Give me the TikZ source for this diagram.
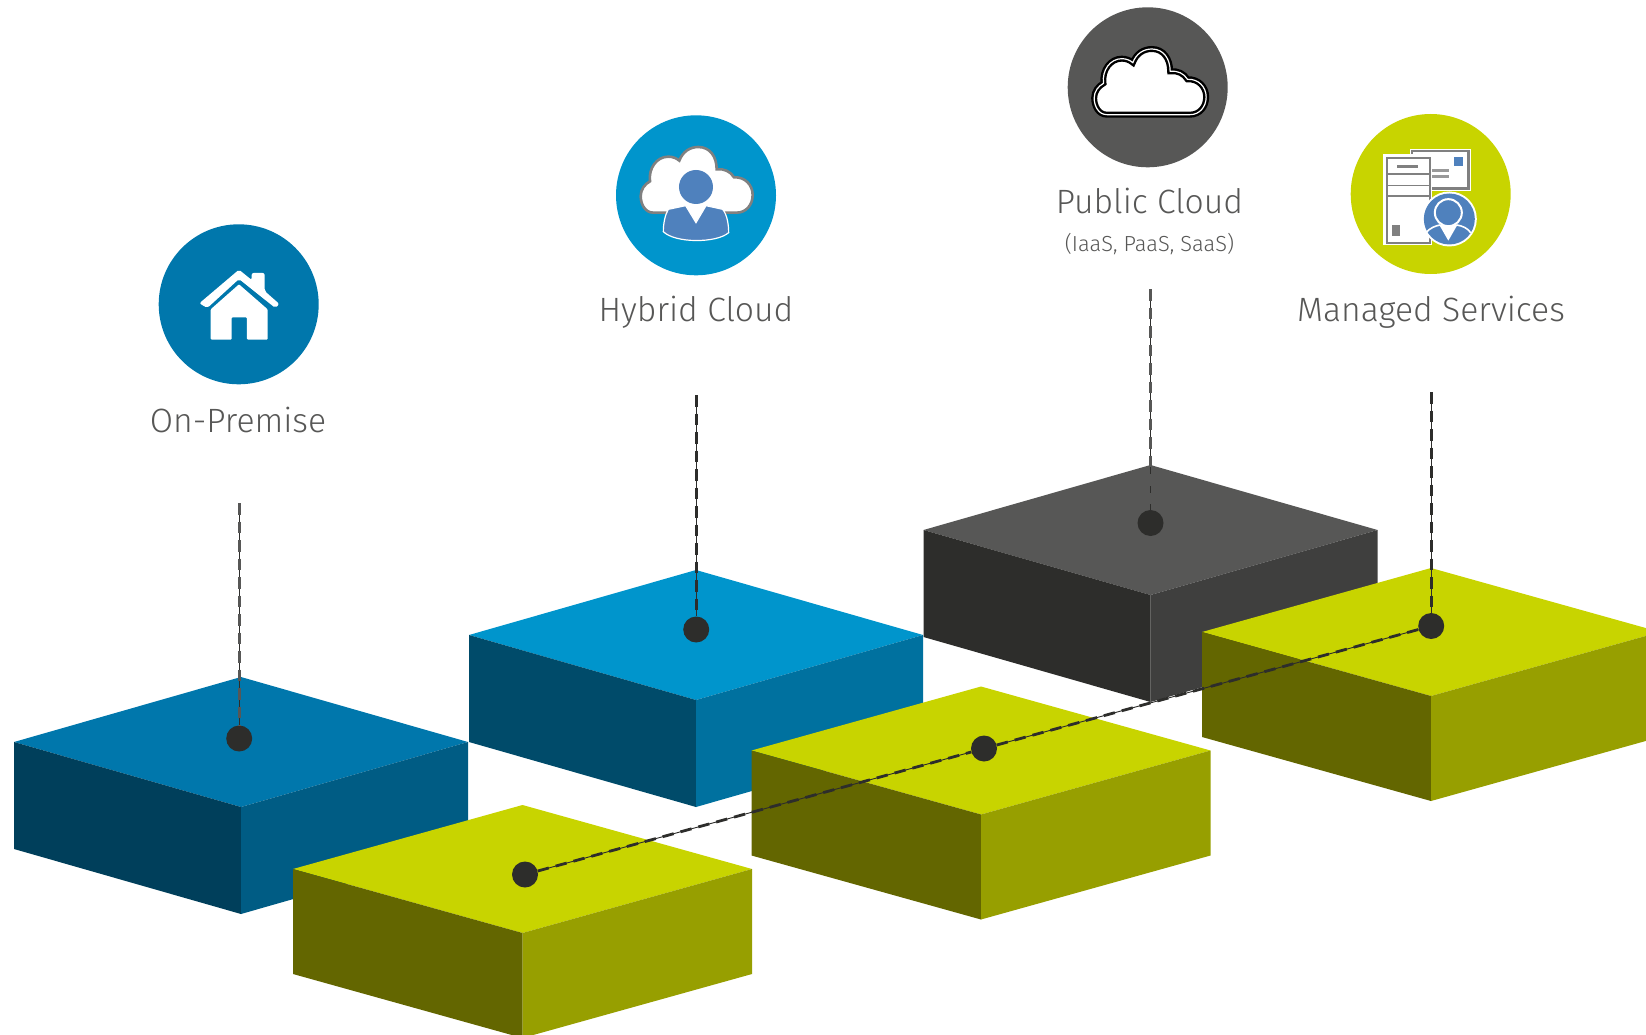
\documentclass[tikz,border=0pt]{standalone}
\usepackage{fontspec}
\setmainfont{Fira Sans Light}
\definecolor{txt}{HTML}{575756}
\definecolor{onpremT}{HTML}{0077AC}\definecolor{onpremL}{HTML}{003F5B}\definecolor{onpremR}{HTML}{005C84}
\definecolor{hybT}{HTML}{0095CC}\definecolor{hybL}{HTML}{004B6A}\definecolor{hybR}{HTML}{00719F}
\definecolor{pubT}{HTML}{575756}\definecolor{pubL}{HTML}{2D2D2B}\definecolor{pubR}{HTML}{3F3F3E}
\definecolor{grT}{HTML}{C8D400}\definecolor{grL}{HTML}{636600}\definecolor{grR}{HTML}{979F00}
\definecolor{pblue}{HTML}{4F81BD}\definecolor{igray}{HTML}{808080}\definecolor{dotc}{HTML}{2D2D2B}
\newcommand\isobox[8]{%
  \fill[#6] ({#1},{#2}) -- ({#1-#3},{#2+#4}) -- ({#1},{#2+2*#4}) -- ({#1+#3},{#2+#4}) -- cycle;
  \fill[#7] ({#1-#3},{#2+#4}) -- ({#1},{#2+2*#4}) -- ({#1},{#2+2*#4+#5}) -- ({#1-#3},{#2+#4+#5}) -- cycle;
  \fill[#8] ({#1+#3},{#2+#4}) -- ({#1},{#2+2*#4}) -- ({#1},{#2+2*#4+#5}) -- ({#1+#3},{#2+#4+#5}) -- cycle;
}
\newcommand\cloudpath{(200,338) -- (160,338) .. controls (135,338) and (122,312) .. (122,288) .. controls (122,268) and (135,252) .. (150,244) .. controls (145,205) and (170,170) .. (205,170) .. controls (218,170) and (230,175) .. (238,182) .. controls (248,155) and (270,141) .. (295,141) .. controls (330,141) and (350,170) .. (350,208) .. controls (372,205) and (392,215) .. (402,232) .. controls (435,230) and (458,255) .. (458,285) .. controls (458,315) and (438,338) .. (410,338) -- (370,338)}
\tikzset{
  label text/.style={text=txt,font=\fontsize{33.7}{37}\selectfont,inner sep=0pt,anchor=center},
  sub text/.style={text=txt,font=\fontsize{21.8}{26}\selectfont,inner sep=0pt,anchor=center},
  dotnode/.style={circle,fill=dotc,minimum size=26pt,inner sep=0pt},
  badge/.style={circle,minimum size=160pt,inner sep=0pt},
  thinline/.style={draw=dotc,line width=0.9pt},
  dashpart/.style={draw=#1,line width=2.8pt,dash pattern=on 11.5pt off 7pt},
  iconscope/.style={x=0.3333pt,y=-0.3333pt}
}
\begin{document}
\begin{tikzpicture}[x=1pt,y=-1pt]
\useasboundingbox (0,0) rectangle (1646,1035);
\clip (0,0) rectangle (1646,1035);
\isobox{241}{677}{227}{65}{107}{onpremT}{onpremL}{onpremR}
\isobox{696}{570}{227}{65}{107}{hybT}{hybL}{hybR}
\isobox{1150.5}{465}{227}{65}{107}{pubT}{pubL}{pubR}
\isobox{522.5}{805}{229.5}{64}{105}{grT}{grL}{grR}
\isobox{981}{686.5}{229.5}{64}{105}{grT}{grL}{grR}
\isobox{1431}{568}{229}{64}{105}{grT}{grL}{grR}
% dots
\node[dotnode] (d1) at (239.2,738.5) {};
\node[dotnode] (d2) at (696.2,629.5) {};
\node[dotnode] (d3) at (1150.5,523) {};
\node[dotnode] (d4) at (1431.2,626) {};
\node[dotnode] (g2) at (984,748.5) {};
\node[dotnode] (g1) at (525,874.5) {};
% free ends
\coordinate (t1) at (239.2,503);
\coordinate (t2) at (696.2,395);
\coordinate (t3) at (1150.5,289);
\coordinate (t4) at (1431.2,392);
\draw[thinline] (t1) -- (d1);
\draw[dashpart=txt] (t1) -- (d1);
\draw[thinline] (t2) -- (d2);
\draw[dashpart=dotc] (t2) -- (d2);
\draw[thinline] (t3) -- (d3);
\draw[dashpart=txt] (t3) -- (d3);
\draw[thinline] (t4) -- (d4);
\draw[dashpart=dotc] (t4) -- (d4);
\draw[thinline] (g1) -- (g2);
\draw[dashpart=dotc] (g1) -- (g2);
\draw[thinline] (g2) -- (d4);
\draw[dashpart=dotc] (g2) -- (d4);
% badges
\node[badge,fill=onpremT] (b1) at (238.7,304.3) {};
\node[badge,fill=hybT] (b2) at (696,195.3) {};
\node[badge,fill=pubT] (b3) at (1147.7,87.3) {};
\node[badge,fill=grT] (b4) at (1430.7,194) {};
% labels
\node[label text] (l1) at (238,419.5) {On-Premise};
\node[label text] (l2) at (696,312.5) {Hybrid Cloud};
\node[label text] (l3) at (1149.5,201) {Public Cloud};
\node[sub text] (l3b) at (1149.5,244) {(IaaS, PaaS, SaaS)};
\node[label text] (l4) at (1431,312.5) {Managed Services};
% house icon
\begin{scope}[shift={(150,220)},iconscope]
\fill[white,rounded corners=2pt] (148,250) -- (267,149) -- (305,180) -- (305,159) -- (344,159) -- (344,213) -- (388,252) -- (376,264) -- (267,177) -- (172,264) -- cycle;
\fill[white,rounded corners=1pt] (182,268) -- (267,193) -- (353,268) -- (353,359) -- (291,359) -- (291,292) -- (245,292) -- (245,359) -- (182,359) -- cycle;
\end{scope}
% hybrid icon
\begin{scope}[shift={(600,100)},iconscope]
\fill[white] \cloudpath -- cycle;
\draw[igray,line width=2.6pt] \cloudpath;
\fill[white] (250,315) -- (288,372) -- (326,315) -- cycle;
\draw[white,line width=1.2pt,fill=pblue] (205,328) -- (257,317) -- (288,368) -- (318,317) -- (368,328) .. controls (382,345) and (386,375) .. (386,398) .. controls (350,430) and (225,430) .. (190,395) .. controls (190,370) and (195,345) .. (205,328) -- cycle;
\fill[pblue] (288,261) circle[radius=17pt];
\end{scope}
% public cloud icon
\begin{scope}[shift={(1053.5,2)},iconscope]
\fill[white] \cloudpath -- cycle;
\draw[black,line width=6pt] \cloudpath -- cycle;
\draw[white,line width=1.2pt] \cloudpath -- cycle;
\end{scope}
% managed services icon
\begin{scope}[shift={(1320,90)},iconscope]
\fill[white] (270,178) rectangle (453,302);
\draw[igray,line width=2pt] (277,184) rectangle (447,296);
\fill[igray] (335,290) rectangle (447,296);
\fill[igray] (441,184) rectangle (447,296);
\fill[pblue] (403,200) rectangle (428,228);
\fill[gray!80] (336,237) rectangle (387,246);
\fill[gray!80] (336,255) rectangle (387,264);
\fill[white] (189,192) rectangle (335,465);
\draw[igray,line width=2pt] (200,203) rectangle (329,458);
\fill[igray] (231,225) rectangle (294,234);
\draw[igray,line width=1.8pt] (200,251) -- (329,251);
\draw[igray,line width=1pt] (200,286) -- (329,286);
\draw[igray,line width=1.8pt] (200,317) -- (329,317);
\fill[igray] (216,405) rectangle (240,438);
\fill[white] (388,387) circle[radius=27.5pt];
\fill[pblue] (388,387) circle[radius=25.5pt];
\draw[white,line width=1.6pt,line cap=round] (318,428) .. controls (330,414) and (345,408) .. (360,405);
\draw[white,line width=1.6pt,line cap=round] (410,405) .. controls (428,408) and (442,414) .. (452,428);
\fill[white] (358,405) -- (412,405) -- (385,452) -- cycle;
\draw[white,line width=2pt,fill=pblue] (385,368) circle[radius=13.5pt];
\end{scope}
\end{tikzpicture}
\end{document}
